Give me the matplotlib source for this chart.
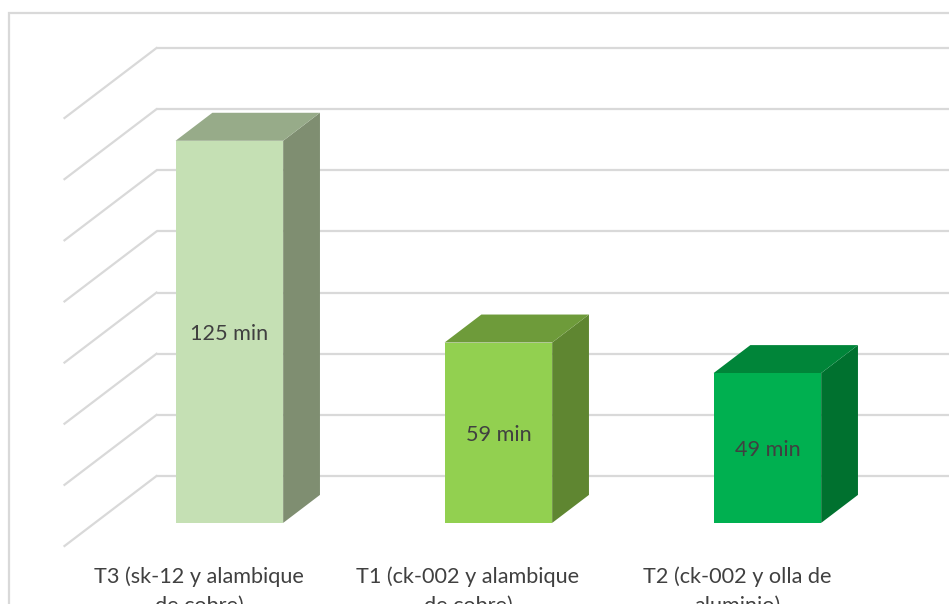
import numpy as np
import matplotlib.pyplot as plt
from matplotlib.patches import Polygon, Rectangle

# datos: tiempo de destilación por tratamiento
categorias = ["T3 (sk-12 y alambique\nde cobre)",
              "T1 (ck-002 y alambique\nde cobre)",
              "T2 (ck-002 y olla de\naluminio)"]
valores = [125, 59, 49]
etiquetas = ["125 min", "59 min", "49 min"]
ticks = np.arange(0, 141, 20)

# colores de cada barra: frente, lado, tapa
c_frente = ["#C5E0B4", "#92D050", "#00B050"]
c_lado = ["#7F8E71", "#5F8631", "#00712F"]
c_tapa = ["#97AB89", "#6E9B3A", "#008539"]

W, H = 949, 604
fig = plt.figure(figsize=(W / 100, H / 100), dpi=100)
ax = fig.add_axes([0, 0, 1, 1])

# escala: px por unidad
px_cat = 269.0
px_val = 3.057
x0_px, y0_px = 291.0, 476.0
ax.set_xlim(-x0_px / px_cat, (W - x0_px) / px_cat)
ax.set_ylim(-(H - y0_px) / px_val, y0_px / px_val)
ax.axis("off")

# vector de profundidad (del borde frontal del piso a la pared del fondo)
prof_dx = 92.0 / px_cat
prof_dy = 70.0 / px_val


def proy(x, v, p):
    """p = distancia desde la pared del fondo (0 fondo, 1 frente)"""
    return (x - prof_dx * p, v - prof_dy * p)


gris = "#D9D9D9"
x_izq, x_der = -0.5, 2.6
for t in ticks:
    ax.plot([x_izq, x_der], [t, t], color=gris, lw=1.6, zorder=1,
            solid_capstyle="butt")
    a = proy(x_izq, t, 0)
    b = proy(x_izq, t, 1)
    ax.plot([a[0], b[0]], [a[1], b[1]], color=gris, lw=1.6, zorder=1)

ancho = 0.4
p_frente, p_atras = 0.67, 0.27
for i, v in enumerate(valores):
    xl, xr = i - ancho / 2, i + ancho / 2
    f = [proy(xl, 0, p_frente), proy(xr, 0, p_frente),
         proy(xr, v, p_frente), proy(xl, v, p_frente)]
    lado = [proy(xr, 0, p_frente), proy(xr, 0, p_atras),
            proy(xr, v, p_atras), proy(xr, v, p_frente)]
    tapa = [proy(xl, v, p_frente), proy(xr, v, p_frente),
            proy(xr, v, p_atras), proy(xl, v, p_atras)]
    ax.add_patch(Polygon(lado, closed=True, fc=c_lado[i], ec="none", zorder=3))
    ax.add_patch(Polygon(tapa, closed=True, fc=c_tapa[i], ec="none", zorder=3))
    ax.add_patch(Polygon(f, closed=True, fc=c_frente[i], ec="none", zorder=4))

    cx, cy = proy(i, v / 2, p_frente)
    ax.annotate(etiquetas[i], (cx, cy), xytext=(0, -1.5),
                textcoords="offset points", ha="center", va="center",
                fontsize=15.6, color="#404040", family="Lato", zorder=5)

    lx, ly = proy(i, 0, 1)
    ax.annotate(categorias[i], (lx, ly), xytext=(0, -15),
                textcoords="offset points", ha="center", va="top",
                fontsize=15.6, color="#404040", family="Lato",
                linespacing=1.5, zorder=5)

# borde del área del gráfico
fig.patches.append(Rectangle((9 / W, -0.1), 1.1, (H - 13) / H + 0.1,
                             transform=fig.transFigure, fill=False,
                             ec=gris, lw=1.6))

fig.savefig("out.png", dpi=100)
